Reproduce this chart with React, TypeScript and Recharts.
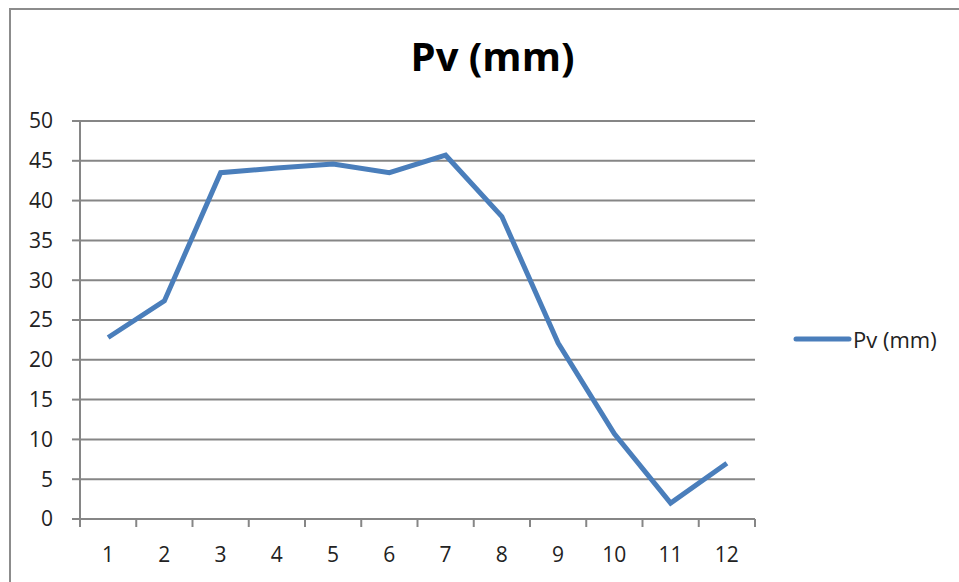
import { LineChart, Line, XAxis, YAxis, CartesianGrid } from "recharts";

const months = ["1", "2", "3", "4", "5", "6", "7", "8", "9", "10", "11", "12"];
const pvValues = [22.8, 27.4, 43.5, 44.1, 44.6, 43.5, 45.7, 38.0, 22.1, 10.7, 2.0, 7.0];
const yTicks = [0, 5, 10, 15, 20, 25, 30, 35, 40, 45, 50];
const seriesName = "Pv (mm)";

const data = months.map((m, i) => ({ month: m, pv: pvValues[i] }));

const W = 959;
const H = 582;
const PLOT_LEFT = 80;
const PLOT_RIGHT = 755;
const STEP = (PLOT_RIGHT - PLOT_LEFT) / months.length;
const GREY = "#868686";
const BLUE = "#4A7EBB";
const FONT = "'Open Sans', sans-serif";

function CategoryTick(props: any) {
  const { x, y, payload, index } = props;
  const half = STEP / 2;
  return (
    <g>
      <line x1={x - half} x2={x - half} y1={y} y2={y + 8} stroke={GREY} strokeWidth={2} />
      {index === months.length - 1 && (
        <line x1={x + half} x2={x + half} y1={y} y2={y + 8} stroke={GREY} strokeWidth={2} />
      )}
      <text x={x} y={y + 35} textAnchor="middle" dominantBaseline="central" fill="#222" fontSize={21} fontFamily={FONT}>
        {payload.value}
      </text>
    </g>
  );
}

export default function App() {
  return (
    <div style={{ position: "fixed", left: 0, top: 0, width: W, height: H, background: "#fff", overflow: "hidden" }}>
      <div
        style={{
          position: "absolute",
          left: 9,
          top: 8,
          width: 1100,
          height: 1100,
          borderLeft: "2px solid #8c8c8c",
          borderTop: "2px solid #8c8c8c",
        }}
      />
      <div
        style={{
          position: "absolute",
          left: 0,
          top: 31,
          width: 985,
          textAlign: "center",
          fontFamily: FONT,
          fontWeight: 700,
          fontSize: 40,
          color: "#000",
          lineHeight: "50px",
        }}
      >
        {seriesName}
      </div>
      <div
        style={{
          position: "absolute",
          left: 792,
          top: 324,
          display: "flex",
          alignItems: "center",
          fontFamily: FONT,
          fontSize: 22,
          lineHeight: "30px",
          color: "#222",
        }}
      >
        <svg width={60} height={10}>
          <line x1={4} x2={57} y1={5} y2={5} stroke={BLUE} strokeWidth={5} strokeLinecap="round" />
        </svg>
        <span style={{ marginLeft: 1 }}>{seriesName}</span>
      </div>
      <div style={{ position: "absolute", left: 0, top: 0 }}>
        <LineChart width={W} height={H} data={data} margin={{ top: 121, right: W - PLOT_RIGHT, bottom: 33, left: 20 }}>
          <CartesianGrid vertical={false} stroke={GREY} strokeWidth={2} />
          <XAxis
            dataKey="month"
            height={30}
            padding={{ left: STEP / 2, right: STEP / 2 }}
            axisLine={{ stroke: GREY, strokeWidth: 2 }}
            tickLine={false}
            tickSize={0}
            tickMargin={0}
            interval={0}
            tick={<CategoryTick />}
          />
          <YAxis
            width={60}
            domain={[0, 50]}
            ticks={yTicks}
            interval={0}
            axisLine={{ stroke: GREY, strokeWidth: 2 }}
            tickLine={{ stroke: GREY, strokeWidth: 2 }}
            tickSize={8}
            tickMargin={19}
            tick={{ fill: "#222", fontSize: 21, fontFamily: FONT }}
          />
          <Line
            type="linear"
            dataKey="pv"
            name={seriesName}
            stroke={BLUE}
            strokeWidth={5}
            dot={false}
            isAnimationActive={false}
          />
        </LineChart>
      </div>
    </div>
  );
}
